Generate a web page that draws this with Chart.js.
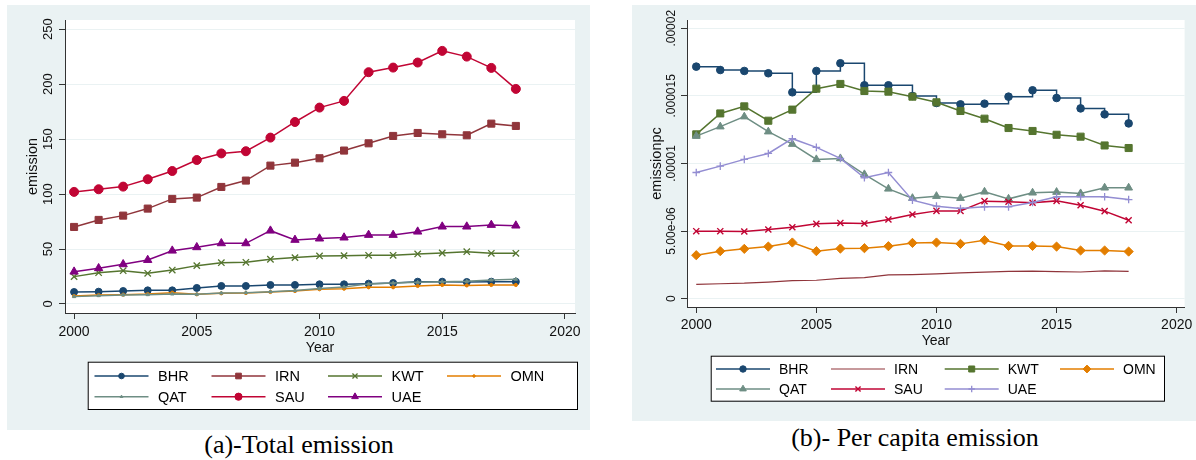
<!DOCTYPE html>
<html>
<head>
<meta charset="utf-8">
<script src="https://cdn.jsdelivr.net/npm/chart.js@4.4.0/dist/chart.umd.min.js"></script>
<style>
  html, body { margin: 0; padding: 0; background: #fff; width: 1196px; height: 460px; overflow: hidden; }
  .panel { position: absolute; background: #eaf2f3; }
  #panelA { left: 7px; top: 5px; width: 583px; height: 425px; }
  #panelB { left: 632px; top: 5px; width: 564px; height: 416px; }
  .caption { position: absolute; font-family: 'Liberation Serif', 'Times New Roman', serif; font-size: 26px;
             line-height: 26px; color: #000; white-space: nowrap; transform: translateX(-50%); }
</style>
</head>
<body>
<div class="panel" id="panelA"><canvas id="chartA" width="583" height="425"></canvas></div>
<div class="panel" id="panelB"><canvas id="chartB" width="564" height="416"></canvas></div>
<div class="caption" style="left:299px; top:432px;">(a)-Total emission</div>
<div class="caption" style="left:915px; top:425px;">(b)- Per capita emission</div>
<script>
// 数据
const years = [2000, 2001, 2002, 2003, 2004, 2005, 2006, 2007, 2008, 2009,
               2010, 2011, 2012, 2013, 2014, 2015, 2016, 2017, 2018];
const countries = ['BHR', 'IRN', 'KWT', 'OMN', 'QAT', 'SAU', 'UAE'];

// (a) total emission
const bhrTotal = [10.9, 11.2, 11.8, 12.4, 12.4, 14.6, 16.4, 16.4, 17.3, 17.3, 17.9, 17.9, 18.5, 19.1, 20.3, 20.3, 20.0, 20.3, 20.3];
const irnTotal = [70.1, 76.5, 80.4, 86.8, 95.6, 96.8, 106.5, 112.3, 125.9, 128.6, 132.6, 139.6, 146.2, 152.9, 155.6, 154.4, 153.5, 164.1, 162.0];
const kwtTotal = [24.9, 28.5, 30.3, 27.9, 30.9, 34.9, 37.6, 37.9, 40.7, 42.2, 43.7, 44.0, 44.3, 44.3, 45.5, 46.4, 47.6, 46.1, 46.1];
const omnTotal = [7.3, 8.2, 8.5, 9.1, 10.3, 8.8, 9.7, 10.0, 10.9, 11.8, 13.4, 13.9, 15.2, 15.2, 16.4, 17.3, 16.9, 17.3, 17.3];
const qatTotal = [6.7, 7.6, 8.2, 8.5, 9.1, 8.8, 9.9, 10.3, 11.2, 12.2, 14.0, 15.5, 18.3, 19.0, 19.8, 20.3, 20.6, 21.8, 22.5];
const sauTotal = [102.0, 104.4, 106.8, 113.5, 121.0, 131.0, 137.0, 139.0, 151.4, 165.6, 178.7, 184.8, 210.9, 215.1, 219.7, 230.3, 225.1, 214.8, 195.7];
const uaeTotal = [29.4, 32.5, 36.1, 40.0, 48.5, 51.6, 55.2, 55.2, 66.7, 58.3, 59.5, 60.4, 62.8, 62.8, 65.8, 70.4, 70.4, 71.9, 71.3];

// (b) per capita emission
const bhrPc = [17.16e-6, 16.91e-6, 16.84e-6, 16.67e-6, 15.26e-6, 16.84e-6, 17.41e-6, 15.78e-6, 15.78e-6, 14.99e-6,
               14.47e-6, 14.37e-6, 14.42e-6, 14.94e-6, 15.41e-6, 14.84e-6, 14.07e-6, 13.63e-6, 12.96e-6];
const irnPc = [1.06e-6, 1.10e-6, 1.14e-6, 1.22e-6, 1.33e-6, 1.36e-6, 1.50e-6, 1.55e-6, 1.75e-6, 1.78e-6,
               1.83e-6, 1.90e-6, 1.96e-6, 2.01e-6, 2.03e-6, 2.00e-6, 1.97e-6, 2.05e-6, 2.02e-6];
const kwtPc = [12.15e-6, 13.70e-6, 14.22e-6, 13.16e-6, 13.98e-6, 15.53e-6, 15.88e-6, 15.36e-6, 15.31e-6, 14.94e-6,
               14.52e-6, 13.88e-6, 13.31e-6, 12.62e-6, 12.40e-6, 12.12e-6, 11.98e-6, 11.33e-6, 11.14e-6];
const omnPc = [3.21e-6, 3.51e-6, 3.68e-6, 3.85e-6, 4.15e-6, 3.51e-6, 3.70e-6, 3.73e-6, 3.88e-6, 4.12e-6,
               4.15e-6, 4.05e-6, 4.32e-6, 3.90e-6, 3.90e-6, 3.85e-6, 3.56e-6, 3.56e-6, 3.48e-6];
const qatPc = [12.02e-6, 12.72e-6, 13.46e-6, 12.35e-6, 11.43e-6, 10.30e-6, 10.37e-6, 9.19e-6, 8.12e-6, 7.43e-6,
               7.58e-6, 7.43e-6, 7.90e-6, 7.38e-6, 7.83e-6, 7.88e-6, 7.78e-6, 8.20e-6, 8.20e-6];
const sauPc = [4.99e-6, 4.99e-6, 4.96e-6, 5.11e-6, 5.28e-6, 5.53e-6, 5.60e-6, 5.56e-6, 5.85e-6, 6.22e-6,
               6.49e-6, 6.49e-6, 7.21e-6, 7.16e-6, 7.09e-6, 7.23e-6, 6.91e-6, 6.47e-6, 5.80e-6];
const uaePc = [9.33e-6, 9.80e-6, 10.30e-6, 10.74e-6, 11.83e-6, 11.19e-6, 10.37e-6, 8.94e-6, 9.33e-6, 7.28e-6,
               6.84e-6, 6.67e-6, 6.79e-6, 6.79e-6, 7.11e-6, 7.53e-6, 7.53e-6, 7.53e-6, 7.33e-6];

// 刻度
const xTicks = [2000, 2005, 2010, 2015, 2020];
const yTicksTotal = [0, 50, 100, 150, 200, 250];
const yTickLabelsTotal = ['0', '50', '100', '150', '200', '250'];
const yTicksPc = [0, 5e-6, 1e-5, 1.5e-5, 2e-5];
const yTickLabelsPc = ['0', '5.00e-06', '.00001', '.000015', '.00002'];

Chart.defaults.font.family = "'Liberation Sans', Arial, sans-serif";

// 样式
const stylesTotal = [
    { color: '#1a476f', point: 'circle', r: 3.5 },
    { color: '#90353b', point: 'rect', r: 5 },
    { color: '#55752f', point: 'crossRot', r: 4.5, bw: 1.3 },
    { color: '#e37e00', point: 'circle', r: 1.6 },
    { color: '#6e8e84', point: 'triangle', r: 2 },
    { color: '#c10534', point: 'circle', r: 4.5 },
    { color: '#800080', point: 'triangle', r: 4.8 }
];
const stylesPc = [
    { color: '#1a476f', point: 'circle', r: 3.8, stepped: true },
    { color: '#90353b', point: 'circle', r: 0, lw: 1.2 },
    { color: '#55752f', point: 'rect', r: 5 },
    { color: '#e37e00', point: 'rectRot', r: 4.6 },
    { color: '#6e8e84', point: 'triangle', r: 4.5 },
    { color: '#c10534', point: 'crossRot', r: 4.3, bw: 1.4 },
    { color: '#938dd2', point: 'cross', r: 3.8, bw: 1.3 }
];

function buildDatasets(seriesList, styles) {
    return seriesList.map((values, i) => {
        const s = styles[i];
        return {
            label: countries[i],
            data: values.map((v, k) => ({ x: years[k], y: v })),
            borderColor: s.color,
            backgroundColor: s.color,
            borderWidth: s.lw || 1.5,
            pointStyle: s.point,
            pointRadius: s.r,
            pointBackgroundColor: s.color,
            pointBorderColor: s.color,
            pointBorderWidth: s.bw || 1,
            stepped: s.stepped || false,
            tension: 0,
            order: -i   // 后面的系列画在上层
        };
    });
}

// 白色绘图区
const plotBackground = {
    id: 'plotBackground',
    beforeDraw(chart) {
        const { ctx, chartArea: a } = chart;
        ctx.save();
        ctx.fillStyle = '#ffffff';
        ctx.fillRect(a.left, a.top, a.right - a.left, a.bottom - a.top);
        ctx.restore();
    }
};

// 竖排的 y 轴刻度标签
const rotatedYTicks = {
    id: 'rotatedYTicks',
    afterDraw(chart, args, opts) {
        const scale = chart.scales.y;
        const ctx = chart.ctx;
        ctx.save();
        ctx.fillStyle = '#111';
        ctx.font = opts.font;
        ctx.textAlign = 'center';
        ctx.textBaseline = 'middle';
        scale.ticks.forEach((t, i) => {
            const y = scale.getPixelForValue(t.value);
            ctx.save();
            ctx.translate(opts.x, y);
            ctx.rotate(-Math.PI / 2);
            ctx.fillText(opts.labels[i], 0, 0);
            ctx.restore();
        });
        ctx.restore();
    }
};

// 带边框的图例
const boxLegend = {
    id: 'boxLegend',
    afterDraw(chart, args, opts) {
        const ctx = chart.ctx;
        const b = opts.box;
        ctx.save();
        ctx.fillStyle = '#ffffff';
        ctx.fillRect(b.x, b.y, b.w, b.h);
        ctx.strokeStyle = '#000';
        ctx.lineWidth = 1;
        ctx.strokeRect(b.x + 0.5, b.y + 0.5, b.w, b.h);
        chart.data.datasets.forEach((ds, i) => {
            const lx = opts.cols[i % 4];
            const ly = opts.rows[Math.floor(i / 4)];
            ctx.strokeStyle = ds.borderColor;
            ctx.lineWidth = ds.borderWidth;
            ctx.beginPath();
            ctx.moveTo(lx, ly);
            ctx.lineTo(lx + opts.lineLen, ly);
            ctx.stroke();
            if (ds.pointRadius > 0 && Chart.helpers && Chart.helpers.drawPoint) {
                ctx.fillStyle = ds.pointBackgroundColor;
                ctx.strokeStyle = ds.pointBorderColor;
                ctx.lineWidth = ds.pointBorderWidth;
                Chart.helpers.drawPoint(ctx, {
                    pointStyle: ds.pointStyle,
                    radius: ds.pointRadius * opts.markerScale,
                    borderWidth: ds.pointBorderWidth,
                    rotation: 0
                }, lx + opts.lineLen / 2, ly);
            }
            ctx.fillStyle = '#000';
            ctx.font = opts.font;
            ctx.textAlign = 'left';
            ctx.textBaseline = 'middle';
            ctx.fillText(ds.label, lx + opts.textGap, ly + 1);
        });
        ctx.restore();
    }
};

function makeChart(canvasId, datasets, cfg) {
    return new Chart(document.getElementById(canvasId), {
        type: 'line',
        data: { datasets: datasets },
        options: {
            responsive: false,
            animation: false,
            events: [],
            layout: { padding: { left: 0, top: 15, right: cfg.padRight, bottom: 0 }, autoPadding: false },
            plugins: {
                legend: { display: false },
                tooltip: { enabled: false },
                rotatedYTicks: { x: cfg.yLabelX, font: cfg.yLabelFont, labels: cfg.yLabels },
                boxLegend: cfg.legend
            },
            scales: {
                x: {
                    type: 'linear',
                    min: cfg.xMin,
                    max: cfg.xMax,
                    afterBuildTicks: s => { s.ticks = xTicks.map(v => ({ value: v })); },
                    afterFit: s => { s.height = cfg.xHeight; },
                    grid: { drawOnChartArea: false, drawTicks: true, tickLength: 6, tickColor: '#333', tickWidth: 1 },
                    border: { display: true, color: '#333', width: 1 },
                    ticks: { font: { size: 14 }, color: '#111', padding: cfg.xTickPad, autoSkip: false,
                             maxRotation: 0, minRotation: 0, callback: v => String(v) },
                    title: { display: true, text: 'Year', font: { size: 14 }, color: '#111',
                             padding: { top: 0, bottom: cfg.yearPad } }
                },
                y: {
                    type: 'linear',
                    min: cfg.yMin,
                    max: cfg.yMax,
                    afterBuildTicks: s => { s.ticks = cfg.yTicks.map(v => ({ value: v })); },
                    afterFit: s => { s.width = cfg.yWidth; },
                    grid: { color: '#eaf2f3', lineWidth: 1, drawTicks: true, tickLength: 6, tickColor: '#333' },
                    border: { display: true, color: '#333', width: 1 },
                    ticks: { display: false },
                    title: { display: true, text: cfg.yTitle, font: { size: 14.5 }, color: '#111',
                             padding: { top: cfg.yTitlePad, bottom: 0 } }
                }
            }
        },
        plugins: [plotBackground, rotatedYTicks, boxLegend]
    });
}

makeChart('chartA',
    buildDatasets([bhrTotal, irnTotal, kwtTotal, omnTotal, qatTotal, sauTotal, uaeTotal], stylesTotal), {
    padRight: 15, xHeight: 117, yWidth: 58,
    xMin: 1999.63, xMax: 2020.41, yMin: -8.2, yMax: 258.4,
    yTicks: yTicksTotal, yLabels: yTickLabelsTotal, yLabelX: 41, yLabelFont: "13px 'Liberation Sans', Arial",
    xTickPad: 4.3, yearPad: 73.6, yTitle: 'emission', yTitlePad: 17.3,
    legend: {
        box: { x: 80.7, y: 356.7, w: 489.3, h: 47.3 },
        cols: [87.5, 204.5, 321, 440], rows: [371, 391.7],
        lineLen: 54, textGap: 63.5, markerScale: 0.8,
        font: "14.5px 'Liberation Sans', Arial"
    }
});

makeChart('chartB',
    buildDatasets([bhrPc, irnPc, kwtPc, omnPc, qatPc, sauPc, uaePc], stylesPc), {
    padRight: 9, xHeight: 114, yWidth: 55,
    xMin: 1999.615, xMax: 2020.33, yMin: -0.62e-6, yMax: 20.61e-6,
    yTicks: yTicksPc, yLabels: yTickLabelsPc, yLabelX: 39.7, yLabelFont: "12px 'Liberation Sans', Arial",
    xTickPad: 3.6, yearPad: 71.3, yTitle: 'emissionpc', yTitlePad: 16,
    legend: {
        box: { x: 78.7, y: 350.7, w: 453.3, h: 45 },
        cols: [84, 199, 312.7, 428], rows: [364, 384],
        lineLen: 54, textGap: 63, markerScale: 0.85,
        font: "14px 'Liberation Sans', Arial"
    }
});
</script>
</body>
</html>
